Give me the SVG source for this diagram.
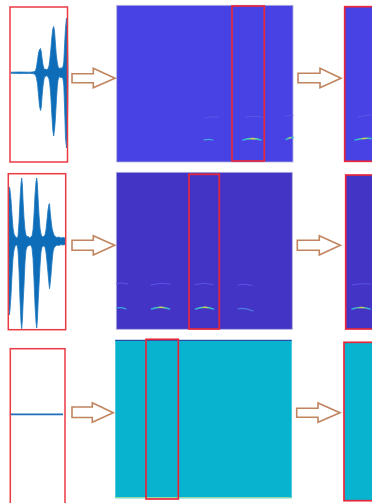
<svg xmlns="http://www.w3.org/2000/svg" width="372" height="503" viewBox="0 0 372 503">
  <style>
    .frame { fill: none; stroke: #ea3a44; stroke-width: 1.5; }
    .sel { fill: none; stroke: #e8283a; stroke-width: 1.7; }
    .wave { fill: #0d6db8; stroke: #1f78c0; stroke-width: 0.8; stroke-linejoin: round; }
    .arrow { fill: #ffffff; stroke: #c0845e; stroke-width: 1.6; stroke-linejoin: miter; }
    .specA { fill: #4842e4; }
    .specB { fill: #4334c6; }
    .specC { fill: #07b3cf; }
    .axis { fill: none; stroke: #b4b2dc; stroke-width: 0.8; }
    .harm { fill: none; stroke: url(#harmGrad); stroke-width: 1.6; stroke-linecap: round; }
    .harmC { fill: none; stroke: #3fa8dc; stroke-width: 1.2; stroke-linecap: round; }
    .harmF { fill: none; stroke: #5d58ea; stroke-width: 0.9; stroke-linecap: round; }
    .harmD { fill: none; stroke: #4f7ee0; stroke-width: 1.1; stroke-linecap: round; }
  </style>
  <defs>
    <linearGradient id="harmGrad" x1="0" y1="0" x2="1" y2="0">
      <stop offset="0" stop-color="#2fa6e8"/>
      <stop offset="0.35" stop-color="#4fd0a0"/>
      <stop offset="0.55" stop-color="#e8d84a"/>
      <stop offset="0.75" stop-color="#4fd0a0"/>
      <stop offset="1" stop-color="#2fa6e8"/>
    </linearGradient>
  </defs>

  <rect width="372" height="503" fill="#ffffff"/>

  <!-- Row 1 -->
  <g id="wave1">
    <polygon class="wave" points="11,72.2 20,72.0 30,72.2 34,71.8 35.5,70.5 36.5,67 37.5,60 38.5,53 39.5,49.5 40.5,48.5 41.3,52 42,58 43,65 44,68.5 45,69.5 46,69 47,70 48,68.5 49,66 49.8,60 50.8,50 51.8,38 52.8,29 53.7,26.5 54.5,31 55.3,42 56.2,54 57.2,62 58,66.5 59,68 60,69 61,67.5 62,68.5 63,66.5 63.8,62 64.6,45 65.5,28 66.5,18 67.3,24 67.8,55 68,70 68,76 67.8,100 67.3,132 66.5,148 65.5,138 64.6,108 63.8,85 63,79 62,77 61,78 60,76.5 59,77.5 58,80 57.2,88 56.2,104 55.3,120 54.5,130 53.7,136 52.8,130 51.8,114 50.8,96 49.8,84 49,79 48,77 47,75.5 46,76.5 45,76 44,79 43,86 42,97 41.3,107 40.5,110.5 39.5,106 38.5,95 37.5,84 36.5,78 35.5,75 34,73.8 30,73.4 20,73.6 11,73.3"/>
    <rect class="frame" x="10" y="7" width="57.5" height="155"/>
  </g>

  <g id="spec1">
    <rect class="specA" x="116.7" y="5.3" width="176.3" height="156.7"/>
    <rect class="axis" x="116.7" y="5.3" width="176.3" height="156.7"/>
    <path class="harmF" d="M205,118 Q212,116 218,117 M246,117 Q254,115.5 262,117 M285,116.5 Q289,115.5 293,115.5"/>
    <path class="harmC" d="M204,140 Q208.5,138.6 213,140"/>
    <path class="harm" d="M243,140 Q252,137.3 261,140"/>
    <path class="harm" d="M286,139.5 Q290,137 293,137.6"/>
    <rect class="sel" x="232" y="6" width="32.3" height="155"/>
  </g>

  <g id="crop1">
    <rect class="specA" x="344.7" y="6.7" width="30" height="154.6"/>
    <path class="harmF" d="M358,117 Q365,115 372,115"/>
    <path class="harm" d="M355,140 Q363,137.5 372,138.5"/>
    <rect class="sel" x="344.7" y="6.7" width="30" height="154.6"/>
  </g>

  <!-- Row 2 -->
  <g id="wave2">
    <polygon class="wave" points="8.6,195 9.3,187 10,190 11,200 12,215 13,228 14,234 15,236 16,237.5 17,238 18,236 19,222 20,200 21,184 21.7,178 22.4,185 23,200 24,218 25,230 26,235 27,237 28,236 29,238 30,237.5 31,237 32,236 33,230 34,215 35,195 36,182 36.7,178 37.4,184 38,197 39,215 40,228 41,234 42,236.5 43,237 44,236 45,235 46,230 47,220 48,210 49,204 49.5,203.7 50,210 51,220 52,228 53,232 54,235 55,236.5 57,237.5 59,237 61,238 63,237.5 65,238 65,244.5 63,245 61,244.5 59,245.5 57,245 55,246.5 54,248 53,252 52,262 51,275 50,285 49.5,288.7 49,284 48,273 47,262 46,252 45,247 44,246 43,246 42,247 41,252 40,266 39,285 38,305 37.4,320 36.7,328 36,322 35,305 34,280 33,258 32,248 31,245.5 30,245 29,245.5 28,246 27,247 26,250 25,262 24,285 23,305 22.4,320 21.7,328.7 21,322 20,300 19,270 18,250 17,245 16,245 15,246.5 14,250 13,258 12,275 11,295 10,310 9.3,315 8.6,305"/>
    <rect class="frame" x="8.3" y="173.7" width="57.4" height="156"/>
  </g>

  <g id="spec2">
    <rect class="specB" x="116.3" y="172.3" width="176" height="157"/>
    <rect class="axis" x="116.3" y="172.3" width="176" height="157"/>
    <path class="harmF" d="M116.5,283.5 Q122,282 128,284 M151,285 Q160,282 170,284 M195,284.5 Q204,282 213,284.5 M238,285 Q245,283 252,285.5"/>
    <path class="harmC" d="M116.8,308 Q121,307 126,309"/>
    <path class="harm" d="M151.5,309 Q160.5,305.5 169.5,309"/>
    <path class="harm" d="M195.5,309 Q204.5,305.5 213.5,309"/>
    <path class="harmD" d="M238,309 Q244,307 253,311"/>
    <rect class="sel" x="189" y="174.3" width="30.3" height="154.7"/>
  </g>

  <g id="crop2">
    <rect class="specB" x="345.7" y="175" width="30" height="154"/>
    <path class="harmF" d="M352,285 Q360,283 370,284"/>
    <path class="harm" d="M352,309 Q361,306 370,309"/>
    <rect class="sel" x="345.7" y="175" width="30" height="154"/>
  </g>

  <!-- Row 3 -->
  <g id="wave3">
    <line x1="11" y1="414.3" x2="63" y2="414.3" stroke="#1f70bc" stroke-width="1.8"/>
    <rect class="frame" x="10.3" y="348.7" width="54.7" height="160"/>
  </g>

  <g id="spec3">
    <rect class="specC" x="115.3" y="340" width="176.4" height="158.3"/>
    <line x1="115.3" y1="340.4" x2="291.7" y2="340.4" stroke="#2a4fa8" stroke-width="1.2"/>
    <line x1="115.3" y1="497.6" x2="291.7" y2="497.6" stroke="#a8dca0" stroke-width="1"/>
    <rect class="sel" x="146" y="339.3" width="32.3" height="159.7"/>
  </g>

  <g id="crop3">
    <rect class="specC" x="344" y="342.3" width="30" height="158.4"/>
    <rect class="sel" x="344" y="342.3" width="30" height="158.4"/>
  </g>

  <!-- Connectors -->
  <g id="connectors">
    <polygon class="arrow" points="72,73.7 93.3,73.7 93.3,68.3 115,78.3 93.3,87.7 93.3,82.7 72,82.7"/>
    <polygon class="arrow" points="298,73.3 320,73.3 320,68.3 341,78.3 320,87.7 320,82.7 298,82.7"/>
    <polygon class="arrow" points="72,240.3 93.3,240.3 93.3,235.7 114.7,245.3 93.3,255 93.3,250.3 72,250.3"/>
    <polygon class="arrow" points="297.3,240.3 319.3,240.3 319.3,235.7 340.3,245.3 319.3,255 319.3,250.3 297.3,250.3"/>
    <polygon class="arrow" points="72,407 92.3,407 92.3,402.7 113.3,412.7 92.3,422.3 92.3,417.5 72,417.5"/>
    <polygon class="arrow" points="296.7,408.3 318,408.3 318,403 340,412.7 318,422.3 318,417.3 296.7,417.3"/>
  </g>
</svg>
